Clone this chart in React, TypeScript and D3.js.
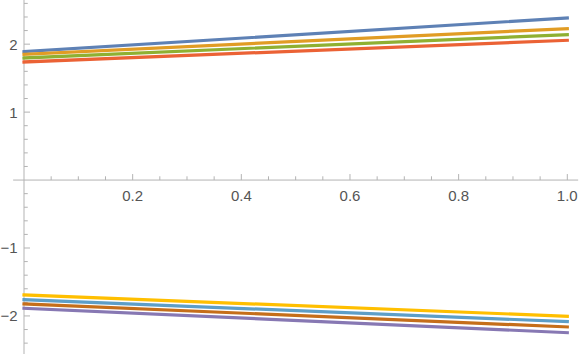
import React, { useRef, useEffect } from "react";
import { select, scaleLinear, line, range } from "d3";

const xs = [0, 1];

// upper group
const blue = [1.89, 2.386];
const orange = [1.851, 2.228];
const green = [1.797, 2.14];
const red = [1.738, 2.057];

// lower group
const purple = [-1.887, -2.246];
const brown = [-1.823, -2.162];
const lightBlue = [-1.76, -2.084];
const yellow = [-1.691, -2.004];

const seriesValues = [blue, orange, green, red, purple, brown, lightBlue, yellow];
const seriesColors = [
  "#5E81B5",
  "#E19C24",
  "#8FB032",
  "#EB6235",
  "#8778B3",
  "#C56E1A",
  "#5D9EC7",
  "#FFBF00",
];

const xTickValues = [0.2, 0.4, 0.6, 0.8, 1.0];
const xTickLabels = ["0.2", "0.4", "0.6", "0.8", "1.0"];
const yTickValues = [-2, -1, 1, 2];
const yTickLabels = ["\u22122", "\u22121", "1", "2"];

const width = 581;
const height = 354;

function App() {
  const svgRef = useRef<SVGSVGElement>(null);

  useEffect(() => {
    const svg = select(svgRef.current);

    const xScale = scaleLinear().domain([0, 1]).range([24, 567.3]);
    const yScale = scaleLinear().domain([-2.56, 2.65]).range([height, 0]);

    const axisColor = "#b3b3b3";
    const labelColor = "#555555";
    const x0 = xScale(0);
    const y0 = yScale(0);

    // axes lines
    svg
      .select(".axes")
      .selectAll("line.axis")
      .data([
        [xScale(-0.02), y0, xScale(1.02), y0],
        [x0, 0, x0, height],
      ])
      .join("line")
      .attr("class", "axis")
      .attr("x1", (d) => d[0])
      .attr("y1", (d) => d[1])
      .attr("x2", (d) => d[2])
      .attr("y2", (d) => d[3])
      .attr("stroke", axisColor)
      .attr("stroke-width", 1);

    // x ticks (pointing up)
    const xMinor = range(1, 21)
      .map((i) => i * 0.05)
      .filter((v) => Math.abs(v / 0.2 - Math.round(v / 0.2)) > 1e-6);
    svg
      .select(".x-ticks")
      .selectAll("line")
      .data([
        ...xTickValues.map((v) => ({ v, len: 6 })),
        ...xMinor.map((v) => ({ v, len: 3.75 })),
      ])
      .join("line")
      .attr("x1", (d) => xScale(d.v))
      .attr("x2", (d) => xScale(d.v))
      .attr("y1", y0)
      .attr("y2", (d) => y0 - d.len)
      .attr("stroke", axisColor);

    svg
      .select(".x-ticks")
      .selectAll("text")
      .data(xTickValues)
      .join("text")
      .attr("x", (d) => xScale(d))
      .attr("y", y0 + 21)
      .attr("text-anchor", "middle")
      .attr("fill", labelColor)
      .attr("font-family", "'Liberation Sans', Arial, sans-serif")
      .attr("font-size", 15)
      .text((d, i) => xTickLabels[i]);

    // y ticks (pointing right)
    const yMinor = range(-12, 14)
      .map((i) => i * 0.2)
      .filter((v) => Math.abs(v - Math.round(v)) > 1e-6);
    svg
      .select(".y-ticks")
      .selectAll("line")
      .data([
        ...yTickValues.map((v) => ({ v, len: 6 })),
        ...yMinor.map((v) => ({ v, len: 3.75 })),
      ])
      .join("line")
      .attr("x1", x0)
      .attr("x2", (d) => x0 + d.len)
      .attr("y1", (d) => yScale(d.v))
      .attr("y2", (d) => yScale(d.v))
      .attr("stroke", axisColor);

    svg
      .select(".y-ticks")
      .selectAll("text")
      .data(yTickValues)
      .join("text")
      .attr("x", x0 - 6.5)
      .attr("y", (d) => yScale(d) + 5.4)
      .attr("text-anchor", "end")
      .attr("fill", labelColor)
      .attr("font-family", "'Liberation Sans', Arial, sans-serif")
      .attr("font-size", 15)
      .text((d, i) => yTickLabels[i]);

    // lines
    const lineGenerator = line<number>()
      .x((d, i) => xScale(xs[i]))
      .y((d) => yScale(d));

    svg
      .select(".lines")
      .selectAll("path")
      .data(seriesValues)
      .join("path")
      .attr("fill", "none")
      .attr("stroke", (d, i) => seriesColors[i])
      .attr("stroke-width", 3.2)
      .attr("stroke-linecap", "square")
      .attr("d", (d) => lineGenerator(d));
  }, []);

  return (
    <svg
      ref={svgRef}
      width={width}
      height={height}
      style={{ position: "absolute", left: 0, top: 0, background: "#fff" }}
    >
      <g className="axes" />
      <g className="x-ticks" />
      <g className="y-ticks" />
      <g className="lines" />
    </svg>
  );
}

export default App;
